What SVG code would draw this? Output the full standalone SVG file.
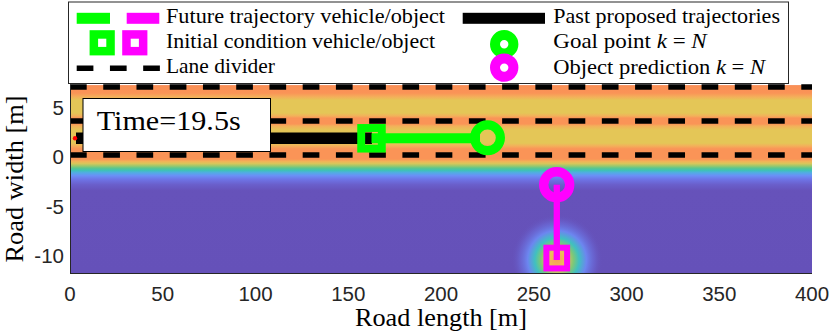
<svg xmlns="http://www.w3.org/2000/svg" width="830" height="335" viewBox="0 0 830 335">
<defs>
<style>
.serif{font-family:"Liberation Serif","Times New Roman",serif;fill:#000}
.leg{font-size:21.5px}
.tick{font-family:"Liberation Sans",Arial,sans-serif;font-size:20.5px;fill:#262626}
.ytick{text-anchor:end}
.xtick{text-anchor:middle}
.dash{stroke:#000;stroke-width:5.6;stroke-dasharray:16.7 16.54;fill:none}
.ring{fill:none}
.g{stroke:#00FF00}
.m{stroke:#FF00FF}
.it{font-style:italic}
</style>
<linearGradient id="heat" gradientUnits="userSpaceOnUse" x1="0" y1="85" x2="0" y2="273">
<stop offset="0" stop-color="#F5A07A"/>
<stop offset="0.005" stop-color="#FA8F55"/>
<stop offset="0.043" stop-color="#FA9457"/>
<stop offset="0.064" stop-color="#F3B05A"/>
<stop offset="0.080" stop-color="#E4C657"/>
<stop offset="0.149" stop-color="#E4C657"/>
<stop offset="0.165" stop-color="#F3B05A"/>
<stop offset="0.176" stop-color="#FA9457"/>
<stop offset="0.207" stop-color="#FA9457"/>
<stop offset="0.218" stop-color="#F3B05A"/>
<stop offset="0.239" stop-color="#E4C657"/>
<stop offset="0.309" stop-color="#E4C657"/>
<stop offset="0.324" stop-color="#F3B05A"/>
<stop offset="0.340" stop-color="#FA9457"/>
<stop offset="0.394" stop-color="#FA9457"/>
<stop offset="0.407" stop-color="#F0B458"/>
<stop offset="0.418" stop-color="#D8C65A"/>
<stop offset="0.430" stop-color="#9CC86C"/>
<stop offset="0.442" stop-color="#5CC68C"/>
<stop offset="0.454" stop-color="#3EC2B6"/>
<stop offset="0.467" stop-color="#52ACE4"/>
<stop offset="0.482" stop-color="#6A90F6"/>
<stop offset="0.502" stop-color="#6E74E6"/>
<stop offset="0.530" stop-color="#6A5FCB"/>
<stop offset="0.562" stop-color="#6652BA"/>
<stop offset="1" stop-color="#6551B9"/>
</linearGradient>
<radialGradient id="blob" gradientUnits="userSpaceOnUse" cx="557" cy="260" r="46">
<stop offset="0" stop-color="#F8A05A"/>
<stop offset="0.2" stop-color="#EEBE58"/>
<stop offset="0.36" stop-color="#7CC878"/>
<stop offset="0.48" stop-color="#40C0C0"/>
<stop offset="0.64" stop-color="#6C86F0"/>
<stop offset="0.82" stop-color="#6A6AD8" stop-opacity="0.6"/>
<stop offset="1" stop-color="#6551B9" stop-opacity="0"/>
</radialGradient>
<clipPath id="plotclip"><rect x="70" y="84" width="742" height="189"/></clipPath>
</defs>
<rect x="0" y="0" width="830" height="335" fill="#FFFFFF"/>

<g id="plot-area" clip-path="url(#plotclip)">
<rect x="70" y="85" width="742" height="188" fill="url(#heat)"/>
<rect x="500" y="205" width="120" height="68" fill="url(#blob)"/>
</g>

<g id="lane-dividers">
<line class="dash" x1="70" y1="87" x2="812" y2="87"/>
<line class="dash" x1="70" y1="121" x2="812" y2="121"/>
<line class="dash" x1="70" y1="155" x2="812" y2="155"/>
</g>

<g id="axes">
<line x1="70.5" y1="85" x2="70.5" y2="273.5" stroke="#262626" stroke-width="1"/>
<line x1="70" y1="273.5" x2="812" y2="273.5" stroke="#262626" stroke-width="1"/>
<g id="y-ticks">
<text class="tick ytick" x="64" y="115">5</text>
<text class="tick ytick" x="64" y="164">0</text>
<text class="tick ytick" x="64" y="214">-5</text>
<text class="tick ytick" x="64" y="262.7">-10</text>
</g>
<g id="x-ticks">
<text class="tick xtick" x="70" y="300.5">0</text>
<text class="tick xtick" x="162.75" y="300.5">50</text>
<text class="tick xtick" x="255.5" y="300.5">100</text>
<text class="tick xtick" x="348.25" y="300.5">150</text>
<text class="tick xtick" x="441" y="300.5">200</text>
<text class="tick xtick" x="533.75" y="300.5">250</text>
<text class="tick xtick" x="626.5" y="300.5">300</text>
<text class="tick xtick" x="719.25" y="300.5">350</text>
<text class="tick xtick" x="812" y="300.5">400</text>
</g>
<text id="x-label" class="serif" x="441" y="326" font-size="26" text-anchor="middle" textLength="172" lengthAdjust="spacingAndGlyphs">Road length [m]</text>
<text id="y-label" class="serif" transform="translate(22.5,179) rotate(-90)" x="0" y="0" font-size="26" text-anchor="middle" textLength="167" lengthAdjust="spacingAndGlyphs">Road width [m]</text>
</g>

<g id="past-trajectory">
<rect x="76" y="132.5" width="296" height="11.5" fill="#000"/>
<circle cx="75" cy="138.3" r="2.2" fill="#FF0000"/>
</g>

<g id="time-box">
<rect x="83" y="98.5" width="187.5" height="53" fill="#FFFFFF" stroke="#000" stroke-width="1"/>
<text class="serif" x="96.7" y="130" font-size="27.5" textLength="144" lengthAdjust="spacingAndGlyphs">Time=19.5s</text>
</g>

<g id="connectors">
<line x1="371.5" y1="138.3" x2="480" y2="138.3" class="g" stroke-width="10"/>
<line x1="556.8" y1="184.7" x2="556.8" y2="260" class="m" stroke-width="6.3"/>
</g>

<g id="vehicle">
<rect x="361.2" y="128" width="20.6" height="20.6" class="ring g" stroke-width="7.9"/>
</g>
<g id="goal-point">
<circle cx="487.5" cy="137.8" r="12.9" class="ring g" stroke-width="9.2"/>
</g>
<g id="object">
<rect x="546.4" y="247.7" width="20.7" height="20.7" class="ring m" stroke-width="6"/>
</g>
<g id="object-prediction">
<circle cx="556.7" cy="184.7" r="13" class="ring m" stroke-width="9.4"/>
</g>

<g id="legend">
<rect x="68.5" y="2" width="720" height="81.5" fill="#FFFFFF" stroke="#262626" stroke-width="1"/>
<rect x="76.7" y="12.8" width="33.3" height="11" fill="#00FF00"/>
<rect x="126.7" y="12.8" width="32.6" height="11" fill="#FF00FF"/>
<text class="serif leg" x="166" y="23.3" textLength="279" lengthAdjust="spacingAndGlyphs">Future trajectory vehicle/object</text>
<rect x="93.85" y="34.45" width="16.7" height="16.7" class="ring g" stroke-width="8.5"/>
<rect x="126.45" y="34.45" width="16.7" height="16.7" class="ring m" stroke-width="8.5"/>
<text class="serif leg" x="166" y="48.3" textLength="269" lengthAdjust="spacingAndGlyphs">Initial condition vehicle/object</text>
<line x1="76.7" y1="68.3" x2="160" y2="68.3" class="dash" stroke-width="5" stroke-dasharray="16 17"/>
<text class="serif leg" x="166" y="72.7" textLength="109" lengthAdjust="spacingAndGlyphs">Lane divider</text>
<rect x="462.7" y="12.8" width="82.3" height="11" fill="#000"/>
<text class="serif leg" x="553.3" y="23.3" textLength="226.7" lengthAdjust="spacingAndGlyphs">Past proposed trajectories</text>
<circle cx="504.2" cy="44.2" r="9.2" class="ring g" stroke-width="10"/>
<circle cx="504.2" cy="67.6" r="9.2" class="ring m" stroke-width="10"/>
<text class="serif leg" x="553.3" y="47.6" textLength="153.4" lengthAdjust="spacingAndGlyphs">Goal point <tspan class="it">k</tspan> = <tspan class="it">N</tspan></text>
<text class="serif leg" x="553.3" y="74" textLength="211.7" lengthAdjust="spacingAndGlyphs">Object prediction <tspan class="it">k</tspan> = <tspan class="it">N</tspan></text>
</g>
</svg>
